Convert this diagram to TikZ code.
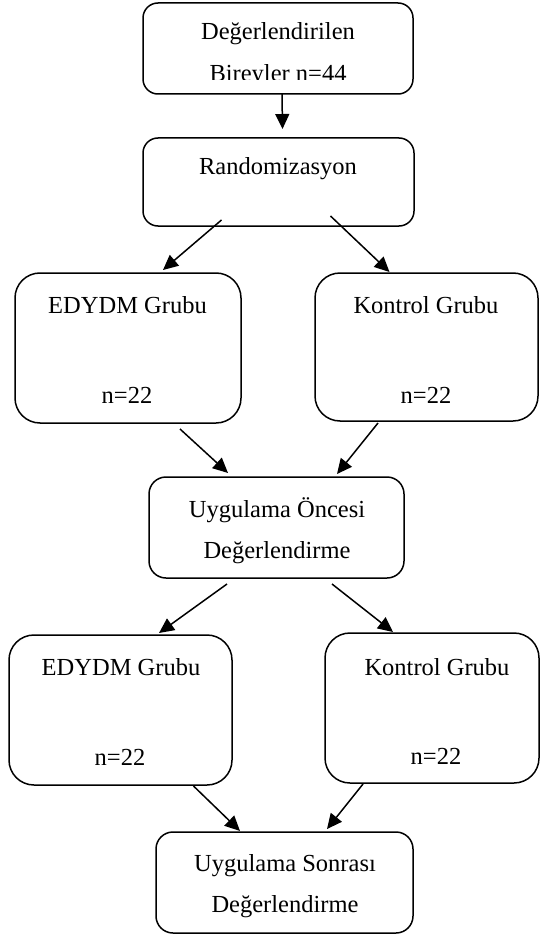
\documentclass[tikz,border=0pt]{standalone}
\usepackage{fontspec}
\setmainfont{Liberation Serif}
\usetikzlibrary{arrows.meta,calc}
\begin{document}
\begin{tikzpicture}[x=1pt,y=-1pt,
  box/.style={draw=black, line width=1.5pt, fill=white, inner sep=0pt, outer sep=0pt},
  lbl/.style={font=\fontsize{24.5}{29}\selectfont, inner sep=0pt, anchor=base},
  arr/.style={draw=black, line width=1.5pt, -{Triangle[length=15pt,width=14pt]}}]
\useasboundingbox[fill=white] (0,0) rectangle (540,936);
% boxes
\node[box, rounded corners=15pt, minimum width=270pt, minimum height=91pt] (b1) at (278,48.5) {};
\node[box, rounded corners=15pt, minimum width=271pt, minimum height=88pt] (b2) at (278.5,182) {};
\node[box, rounded corners=25pt, minimum width=226pt, minimum height=150pt] (e1) at (128,348) {};
\node[box, rounded corners=25pt, minimum width=223pt, minimum height=148pt] (k1) at (426.5,347) {};
\node[box, rounded corners=17pt, minimum width=255pt, minimum height=101pt] (o) at (276.5,527.5) {};
\node[box, rounded corners=25pt, minimum width=223pt, minimum height=150pt] (e2) at (120.5,710) {};
\node[box, rounded corners=25pt, minimum width=214pt, minimum height=150pt] (k2) at (432,708) {};
\node[box, rounded corners=17pt, minimum width=257pt, minimum height=101pt] (s) at (284.5,882.5) {};
% texts
\node[lbl] (t1a) at (278,40) {Değerlendirilen};
\begin{scope}
  \clip (143,0) rectangle (413,79.5);
  \node[lbl] (t1b) at (278,82) {Bireyler n=44};
\end{scope}
\node[lbl] (t2) at (278,175) {Randomizasyon};
\node[lbl] (t3a) at (127.5,313) {EDYDM Grubu};
\node[lbl] (t3b) at (127,403) {n=22};
\node[lbl] (t4a) at (426,313) {Kontrol Grubu};
\node[lbl] (t4b) at (426,403) {n=22};
\node[lbl] (t5a) at (277,517) {Uygulama Öncesi};
\node[lbl] (t5b) at (277,558) {Değerlendirme};
\node[lbl] (t6a) at (121,675) {EDYDM Grubu};
\node[lbl] (t6b) at (120,765) {n=22};
\node[lbl] (t7a) at (437,675) {Kontrol Grubu};
\node[lbl] (t7b) at (436,764) {n=22};
\node[lbl] (t8a) at (285,871) {Uygulama Sonrası};
\node[lbl] (t8b) at (285,912) {Değerlendirme};
% arrows
\draw[arr] ($(b1.south)+(4,0)$) -- ($(b2.north)+(4,-9)$);
\draw[arr] ($(b2.south)+(-57,-6)$) -- ($(e1.north)+(35,-3)$);
\draw[arr] ($(b2.south)+(52,-10)$) -- ($(k1.north)+(-37,-1)$);
\draw[arr] ($(e1.south)+(52,6)$) -- ($(o.north)+(-48.5,-4)$);
\draw[arr] ($(k1.south)+(-48.5,2)$) -- ($(o.north)+(60.5,-3)$);
\draw[arr] ($(o.south)+(-49.5,6)$) -- ($(e2.north)+(38.5,-2)$);
\draw[arr] ($(o.south)+(55.5,6)$) -- ($(k2.north)+(-39,-1)$);
\draw[arr] ($(e2.south)+(73,1)$) -- ($(s.north)+(-44.5,-1)$);
\draw[arr] ($(k2.south)+(-69,1)$) -- ($(s.north)+(42.5,-3)$);
\end{tikzpicture}
\end{document}
